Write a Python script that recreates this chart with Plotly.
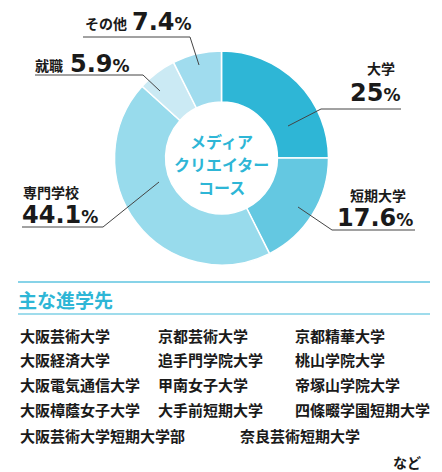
import plotly.graph_objects as go

W, H = 442, 472

categories = ["大学", "短期大学", "専門学校", "就職", "その他"]
values = [25, 17.6, 44.1, 5.9, 7.4]
colors = ["#2eb6d6", "#64c8e1", "#98dbec", "#cbeaf4", "#a0dcee"]
center_title = ["メディア", "クリエイター", "コース"]
list_title = "主な進学先"
schools_rows = [
    ["大阪芸術大学", "京都芸術大学", "京都精華大学"],
    ["大阪経済大学", "追手門学院大学", "桃山学院大学"],
    ["大阪電気通信大学", "甲南女子大学", "帝塚山学院大学"],
    ["大阪樟蔭女子大学", "大手前短期大学", "四條畷学園短期大学"],
    ["大阪芸術大学短期大学部", "奈良芸術短期大学"],
]
etc_text = "など"

JP = "Noto Sans CJK JP"
NUM = "DejaVu Sans"
DARK = "#1a1a1a"


def px(x):
    return x / W


def py(y):
    return 1 - y / H


cx, cy, R = 221.5, 158, 107

fig = go.Figure()
fig.add_trace(go.Pie(
    labels=categories,
    values=values,
    sort=False,
    direction="clockwise",
    rotation=0,
    hole=0.523,
    marker=dict(colors=colors, line=dict(color="white", width=1.5)),
    textinfo="none",
    hoverinfo="label+percent",
    showlegend=False,
    domain=dict(x=[px(cx - R), px(cx + R)], y=[py(cy + R), py(cy - R)]),
))

annotations = []
shapes = []


def pct_text(v):
    return f"{v:g}<span style='font-size:17px'>%</span>"


def text(x, y, s, size, color=DARK, family=JP, xanchor="left", weight=700):
    annotations.append(dict(
        x=px(x), y=py(y), xref="paper", yref="paper", text=s, showarrow=False,
        xanchor=xanchor, yanchor="middle",
        font=dict(family=family, size=size, color=color, weight=weight),
        borderpad=0,
    ))


def polyline(points, color="#444444", width=1):
    path = "M " + " L ".join(f"{px(x)},{py(y)}" for x, y in points)
    shapes.append(dict(type="path", path=path, xref="paper", yref="paper",
                       line=dict(color=color, width=width)))


# 大学
text(381, 68, categories[0], 14, xanchor="center")
text(401, 93, pct_text(values[0]), 24, family=NUM, xanchor="right")
polyline([(288, 126), (321, 109), (401, 109)])

# 短期大学
text(378, 195, categories[1], 14, xanchor="center")
text(414, 218, pct_text(values[1]), 24, family=NUM, xanchor="right")
polyline([(298, 207), (332, 230), (415, 230)])

# 専門学校
text(22, 192, categories[2], 14)
text(21, 215, pct_text(values[2]), 24, family=NUM)
polyline([(159, 182), (103, 227), (22, 227)])

# その他
text(84, 23, categories[4], 14)
text(131, 22, pct_text(values[4]), 24, family=NUM)
polyline([(199, 65), (190, 37), (83, 37)])

# 就職
text(34, 65, categories[3], 14)
text(69, 64, pct_text(values[3]), 24, family=NUM)
polyline([(160, 91), (143, 75), (35, 75)])

# center title (one annotation per line)
for line, ly in zip(center_title, [141, 164, 187]):
    text(cx, ly, line, 16, color="#2eb6d6", xanchor="center")

# list section
shapes.append(dict(type="line", xref="paper", yref="paper",
                   x0=px(18), x1=px(430), y0=py(282), y1=py(282),
                   line=dict(color="#5fc4e0", width=1.5)))
shapes.append(dict(type="line", xref="paper", yref="paper",
                   x0=px(18), x1=px(430), y0=py(314), y1=py(314),
                   line=dict(color="#7fd0e6", width=1.5)))
text(17, 299, list_title, 19, color="#2eb6d6")

row_y = [335, 359, 384, 409, 435]
col_x = [19, 157, 294]
col_x_last = [19, 239]
for r, row in enumerate(schools_rows):
    xs = col_x if len(row) == 3 else col_x_last
    for c, name in enumerate(row):
        text(xs[c], row_y[r], name, 15)

text(422, 462, etc_text, 14, xanchor="right")

fig.update_layout(
    width=W, height=H,
    margin=dict(l=0, r=0, t=0, b=0),
    paper_bgcolor="white", plot_bgcolor="white",
    annotations=annotations, shapes=shapes,
)

fig.write_html("out.html", config=dict(displayModeBar=False))
